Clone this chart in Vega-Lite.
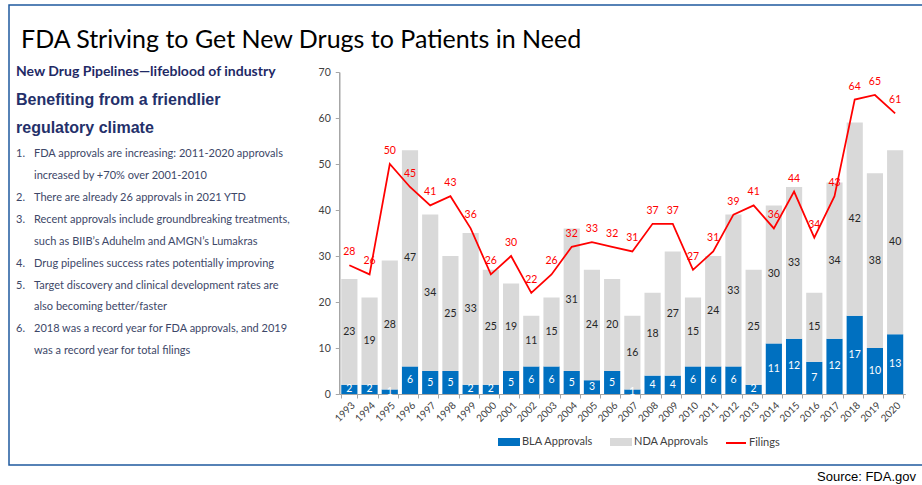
{
  "$schema": "https://vega.github.io/schema/vega-lite/v6.json",
  "background": "white",
  "padding": {"left": 9, "top": 5, "right": 0, "bottom": 0},
  "width": 913,
  "height": 460,
  "config": {
    "font": "Lato",
    "axis": {"labelFont": "Lato", "labelColor": "#404040"}
  },
  "view": {"stroke": "#1f5a9e", "strokeWidth": 1.5, "strokeDash": [913, 460, 1373]},
  "title": {
    "text": "Source: FDA.gov",
    "orient": "bottom",
    "anchor": "end",
    "font": "Liberation Sans",
    "fontSize": 13,
    "fontWeight": "normal",
    "color": "#000000",
    "offset": 6,
    "dx": -6
  },
  "datasets": {
    "fda": [
      {"year": "1993", "BLA Approvals": 2, "NDA Approvals": 23, "Filings": 28},
      {"year": "1994", "BLA Approvals": 2, "NDA Approvals": 19, "Filings": 26},
      {"year": "1995", "BLA Approvals": 1, "NDA Approvals": 28, "Filings": 50},
      {"year": "1996", "BLA Approvals": 6, "NDA Approvals": 47, "Filings": 45},
      {"year": "1997", "BLA Approvals": 5, "NDA Approvals": 34, "Filings": 41},
      {"year": "1998", "BLA Approvals": 5, "NDA Approvals": 25, "Filings": 43},
      {"year": "1999", "BLA Approvals": 2, "NDA Approvals": 33, "Filings": 36},
      {"year": "2000", "BLA Approvals": 2, "NDA Approvals": 25, "Filings": 26},
      {"year": "2001", "BLA Approvals": 5, "NDA Approvals": 19, "Filings": 30},
      {"year": "2002", "BLA Approvals": 6, "NDA Approvals": 11, "Filings": 22},
      {"year": "2003", "BLA Approvals": 6, "NDA Approvals": 15, "Filings": 26},
      {"year": "2004", "BLA Approvals": 5, "NDA Approvals": 31, "Filings": 32},
      {"year": "2005", "BLA Approvals": 3, "NDA Approvals": 24, "Filings": 33},
      {"year": "2006", "BLA Approvals": 5, "NDA Approvals": 20, "Filings": 32},
      {"year": "2007", "BLA Approvals": 1, "NDA Approvals": 16, "Filings": 31},
      {"year": "2008", "BLA Approvals": 4, "NDA Approvals": 18, "Filings": 37},
      {"year": "2009", "BLA Approvals": 4, "NDA Approvals": 27, "Filings": 37},
      {"year": "2010", "BLA Approvals": 6, "NDA Approvals": 15, "Filings": 27},
      {"year": "2011", "BLA Approvals": 6, "NDA Approvals": 24, "Filings": 31},
      {"year": "2012", "BLA Approvals": 6, "NDA Approvals": 33, "Filings": 39},
      {"year": "2013", "BLA Approvals": 2, "NDA Approvals": 25, "Filings": 41},
      {"year": "2014", "BLA Approvals": 11, "NDA Approvals": 30, "Filings": 36},
      {"year": "2015", "BLA Approvals": 12, "NDA Approvals": 33, "Filings": 44},
      {"year": "2016", "BLA Approvals": 7, "NDA Approvals": 15, "Filings": 34},
      {"year": "2017", "BLA Approvals": 12, "NDA Approvals": 34, "Filings": 43},
      {"year": "2018", "BLA Approvals": 17, "NDA Approvals": 42, "Filings": 64},
      {"year": "2019", "BLA Approvals": 10, "NDA Approvals": 38, "Filings": 65},
      {"year": "2020", "BLA Approvals": 13, "NDA Approvals": 40, "Filings": 61}
    ],
    "copy": [
      {"line": 1, "role": "title", "num": "", "text": "FDA Striving to Get New Drugs to Patients in Need"},
      {"line": 2, "role": "tagline", "num": "", "text": "New Drug Pipelines—lifeblood of industry"},
      {"line": 4, "role": "headline", "num": "", "text": ["Benefiting from a friendlier", "regulatory climate"]},
      {"line": 6, "role": "point", "num": "1.", "text": "FDA approvals are increasing: 2011-2020 approvals"},
      {"line": 7, "role": "point", "num": "", "text": "increased by +70% over 2001-2010"},
      {"line": 8, "role": "point", "num": "2.", "text": "There are already 26 approvals in 2021 YTD"},
      {"line": 9, "role": "point", "num": "3.", "text": "Recent approvals include groundbreaking treatments,"},
      {"line": 10, "role": "point", "num": "", "text": "such as BIIB’s Aduhelm and AMGN’s Lumakras"},
      {"line": 11, "role": "point", "num": "4.", "text": "Drug pipelines success rates potentially improving"},
      {"line": 12, "role": "point", "num": "5.", "text": "Target discovery and clinical development rates are"},
      {"line": 13, "role": "point", "num": "", "text": "also becoming better/faster"},
      {"line": 14, "role": "point", "num": "6.", "text": "2018 was a record year for FDA approvals, and 2019"},
      {"line": 15, "role": "point", "num": "", "text": "was a record year for total filings"}
    ]
  },
  "resolve": {"scale": {"x": "independent", "y": "independent"}, "axis": {"x": "independent", "y": "independent"}},
  "layer": [
    {
      "data": {"name": "copy"},
      "encoding": {
        "y": {"field": "line", "type": "quantitative", "scale": {"domain": [-0.82, 20.2], "reverse": true, "nice": false, "zero": false}, "axis": null}
      },
      "layer": [
        {
          "transform": [{"filter": "datum.role === 'title'"}],
          "mark": {"type": "text", "align": "left", "baseline": "middle", "font": "Lato", "fontSize": 25, "color": "#000000", "dy": -5},
          "encoding": {"x": {"value": 12}, "text": {"field": "text"}}
        },
        {
          "transform": [{"filter": "datum.role === 'tagline'"}],
          "mark": {"type": "text", "align": "left", "baseline": "middle", "font": "Lato", "fontSize": 14, "fontWeight": "bold", "color": "#1f2a66", "dy": 5.5},
          "encoding": {"x": {"value": 7}, "text": {"field": "text"}}
        },
        {
          "transform": [{"filter": "datum.role === 'headline'"}],
          "mark": {"type": "text", "align": "left", "baseline": "middle", "font": "Liberation Sans", "fontSize": 16, "fontWeight": "bold", "color": "#24306a", "lineHeight": 28, "dy": -10},
          "encoding": {"x": {"value": 7}, "text": {"field": "text"}}
        },
        {
          "transform": [{"filter": "datum.role === 'point'"}],
          "mark": {"type": "text", "align": "left", "baseline": "middle", "font": "Lato", "fontSize": 11, "color": "#3d4768"},
          "encoding": {"x": {"value": 7}, "text": {"field": "num"}}
        },
        {
          "transform": [{"filter": "datum.role === 'point'"}],
          "mark": {"type": "text", "align": "left", "baseline": "middle", "font": "Lato", "fontSize": 11, "color": "#3d4768"},
          "encoding": {"x": {"value": 25}, "text": {"field": "text"}}
        }
      ]
    },
    {
      "data": {"name": "fda"},
      "encoding": {
        "x": {
          "field": "year",
          "type": "ordinal",
          "scale": {"range": [330.25, 896.25], "paddingInner": 0.2, "paddingOuter": 0.1},
          "axis": {
            "title": null,
            "offset": -71,
            "labelAngle": -45,
            "labelFontSize": 10,
            "labelPadding": 2,
            "domainColor": "#a6a6a6",
            "tickColor": "#a6a6a6",
            "tickSize": 4,
            "tickBand": "extent"
          }
        }
      },
      "layer": [
        {
          "transform": [{"fold": ["BLA Approvals", "NDA Approvals"], "as": ["series", "count"]}],
          "mark": {"type": "bar"},
          "encoding": {
            "y": {
              "field": "count",
              "type": "quantitative",
              "stack": "zero",
              "scale": {"domain": [0, 70], "range": [389, 67]},
              "axis": {
                "title": null,
                "offset": -330.25,
                "values": [0, 10, 20, 30, 40, 50, 60, 70],
                "labelFontSize": 10.5,
                "labelPadding": 5,
                "domainColor": "#a6a6a6",
                "domainWidth": 1.5,
                "tickColor": "#a6a6a6",
                "tickSize": 4,
                "gridColor": "#a6a6a6",
                "gridWidth": 1
              }
            },
            "order": {"field": "series", "sort": "ascending"},
            "color": {
              "field": "series",
              "type": "nominal",
              "scale": {"domain": ["BLA Approvals", "NDA Approvals", "Filings"], "range": ["#0070C0", "#D9D9D9", "#FF0000"]},
              "legend": {
                "orient": "none",
                "legendX": 489,
                "legendY": 426,
                "direction": "horizontal",
                "title": null,
                "labelFont": "Lato",
                "labelFontSize": 11,
                "labelColor": "#404040",
                "labelOffset": 2,
                "columnPadding": 13,
                "symbolSize": 400,
                "symbolStrokeWidth": 2,
                "encode": {
                  "symbols": {
                    "update": {
                      "shape": {"signal": "datum.value === 'Filings' ? 'M-1,0H1' : 'M-1,-0.3H1V0.3H-1Z'"},
                      "fill": {"signal": "datum.value === 'Filings' ? 'transparent' : scale('color', datum.value)"},
                      "stroke": {"signal": "datum.value === 'Filings' ? '#FF0000' : 'transparent'"},
                      "opacity": {"value": 1}
                    }
                  }
                }
              }
            }
          }
        },
        {
          "transform": [
            {"fold": ["BLA Approvals", "NDA Approvals"], "as": ["series", "count"]},
            {"stack": "count", "groupby": ["year"], "sort": [{"field": "series"}], "as": ["lo", "hi"]},
            {"fold": ["lo", "hi"], "as": ["edge", "pos"]},
            {"aggregate": [{"op": "mean", "field": "pos", "as": "mid"}], "groupby": ["year", "series", "count"]},
            {"filter": "datum.series === 'BLA Approvals'"}
          ],
          "mark": {"type": "text", "fontSize": 10.5, "color": "#ffffff", "baseline": "middle"},
          "encoding": {
            "y": {"field": "mid", "type": "quantitative", "title": null},
            "text": {"field": "count", "type": "quantitative"}
          }
        },
        {
          "transform": [
            {"fold": ["BLA Approvals", "NDA Approvals"], "as": ["series", "count"]},
            {"stack": "count", "groupby": ["year"], "sort": [{"field": "series"}], "as": ["lo", "hi"]},
            {"fold": ["lo", "hi"], "as": ["edge", "pos"]},
            {"aggregate": [{"op": "mean", "field": "pos", "as": "mid"}], "groupby": ["year", "series", "count"]},
            {"filter": "datum.series === 'NDA Approvals'"}
          ],
          "mark": {"type": "text", "fontSize": 10.5, "color": "#262626", "baseline": "middle"},
          "encoding": {
            "y": {"field": "mid", "type": "quantitative", "title": null},
            "text": {"field": "count", "type": "quantitative"}
          }
        },
        {
          "mark": {"type": "line", "strokeWidth": 1.75},
          "encoding": {
            "y": {"field": "Filings", "type": "quantitative", "title": null},
            "color": {"datum": "Filings"}
          }
        },
        {
          "mark": {"type": "text", "fontSize": 10.5, "color": "#FF0000", "baseline": "middle", "dy": -13},
          "encoding": {
            "y": {"field": "Filings", "type": "quantitative", "title": null},
            "text": {"field": "Filings", "type": "quantitative"}
          }
        }
      ]
    }
  ]
}
